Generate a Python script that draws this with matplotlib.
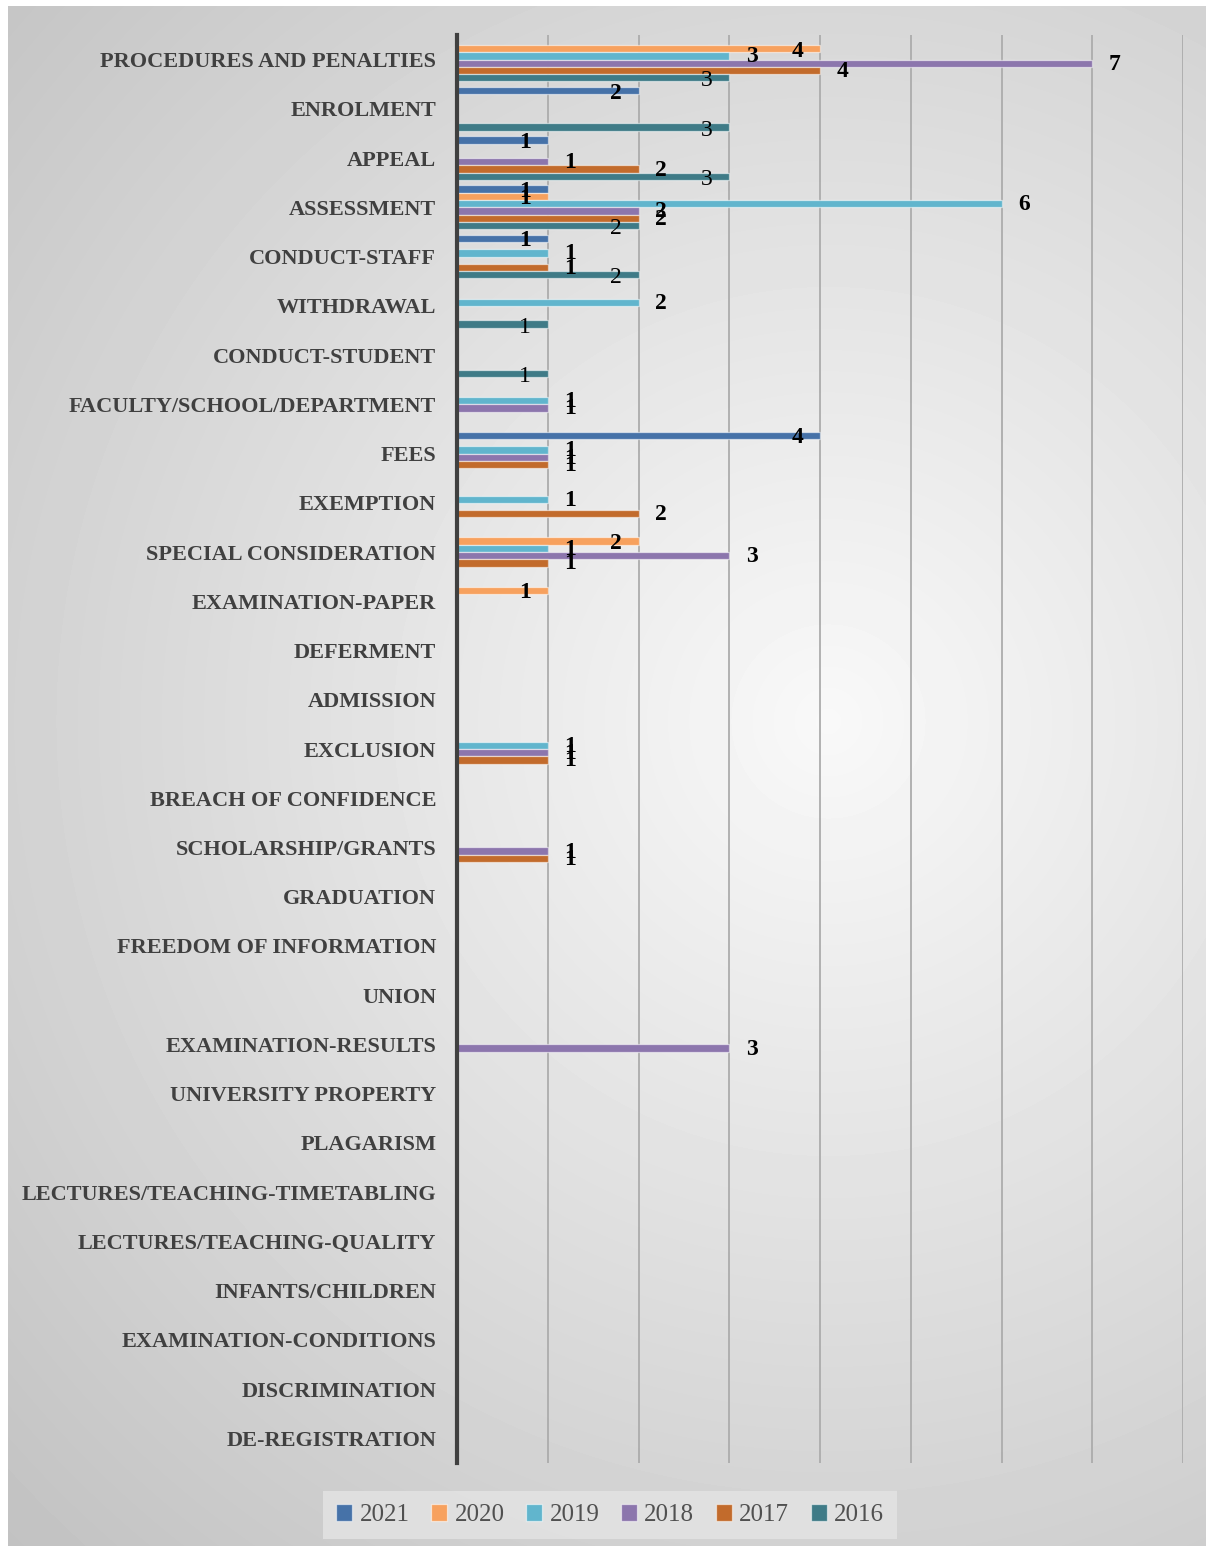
import numpy as np
import matplotlib
matplotlib.use("Agg")
import matplotlib.pyplot as plt


categories = [
    "PROCEDURES AND PENALTIES", "ENROLMENT", "APPEAL", "ASSESSMENT",
    "CONDUCT-STAFF", "WITHDRAWAL", "CONDUCT-STUDENT", "FACULTY/SCHOOL/DEPARTMENT",
    "FEES", "EXEMPTION", "SPECIAL CONSIDERATION", "EXAMINATION-PAPER",
    "DEFERMENT", "ADMISSION", "EXCLUSION", "BREACH OF CONFIDENCE",
    "SCHOLARSHIP/GRANTS", "GRADUATION", "FREEDOM OF INFORMATION", "UNION",
    "EXAMINATION-RESULTS", "UNIVERSITY PROPERTY", "PLAGARISM",
    "LECTURES/TEACHING-TIMETABLING", "LECTURES/TEACHING-QUALITY",
    "INFANTS/CHILDREN", "EXAMINATION-CONDITIONS", "DISCRIMINATION",
    "DE-REGISTRATION",
]

years = ["2021", "2020", "2019", "2018", "2017", "2016"]

#            PRO ENR APP ASS CST WDR CSU FAC FEE EXE SPC EXP DEF ADM EXC BRE SCH GRA FOI UNI EXR UPR PLA LTT LTQ INF EXC DIS DER
v2021 = [0, 2, 1, 1, 1, 0, 0, 0, 4, 0, 0, 0, 0, 0, 0, 0, 0, 0, 0, 0, 0, 0, 0, 0, 0, 0, 0, 0, 0]
v2020 = [4, 0, 0, 1, 0, 0, 0, 0, 0, 0, 2, 1, 0, 0, 0, 0, 0, 0, 0, 0, 0, 0, 0, 0, 0, 0, 0, 0, 0]
v2019 = [3, 0, 0, 6, 1, 2, 0, 1, 1, 1, 1, 0, 0, 0, 1, 0, 0, 0, 0, 0, 0, 0, 0, 0, 0, 0, 0, 0, 0]
v2018 = [7, 0, 1, 2, 0, 0, 0, 1, 1, 0, 3, 0, 0, 0, 1, 0, 1, 0, 0, 0, 3, 0, 0, 0, 0, 0, 0, 0, 0]
v2017 = [4, 0, 2, 2, 1, 0, 0, 0, 1, 2, 1, 0, 0, 0, 1, 0, 1, 0, 0, 0, 0, 0, 0, 0, 0, 0, 0, 0, 0]
v2016 = [3, 3, 3, 2, 2, 1, 1, 0, 0, 0, 0, 0, 0, 0, 0, 0, 0, 0, 0, 0, 0, 0, 0, 0, 0, 0, 0, 0, 0]
series = [v2021, v2020, v2019, v2018, v2017, v2016]

colors = ["#4672a8", "#f7a15e", "#61b5cd", "#8c76ad", "#c26b2c", "#3f7b87"]
# value labels: horizontal shift in data units, weight
label_dx = [-0.25, -0.25, 0.25, 0.25, 0.25, -0.25]
label_dy = [0.05, 0.05, 0.02, 0.02, 0.02, 0.06]
label_weight = ["bold", "bold", "bold", "bold", "bold", "normal"]

serif = ["Liberation Serif", "DejaVu Serif"]

fig = plt.figure(figsize=(12.06, 15.46), dpi=100)

# radial grey background
bg = fig.add_axes([8 / 1206, 0, 1 - 8 / 1206, 1 - 6 / 1546])
W, H = 1198, 1540
xx, yy = np.meshgrid(np.arange(W), np.arange(H))
r = np.hypot(xx - 820, yy - 715)
shade = np.clip(0.975 - 0.2 * r / 1080, 0.74, 1.0)
bg.imshow(shade, cmap="gray", vmin=0, vmax=1, aspect="auto", interpolation="bilinear")
bg.set_axis_off()

ax = fig.add_axes([457 / 1206, 1 - 1463 / 1546, (1183 - 457) / 1206, (1463 - 35) / 1546])
ax.patch.set_alpha(0)

n = len(categories)
y = np.arange(n)
slot = 0.148
for i, (vals, col) in enumerate(zip(series, colors)):
    pos = y + (i - 2.5) * slot
    ax.barh(pos, vals, height=slot, color=col, edgecolor=(1, 1, 1, 0.55),
            linewidth=0.9, label=years[i], zorder=3)
    for p, v in zip(pos, vals):
        if v > 0:
            ax.text(v + label_dx[i], p + label_dy[i], str(v), ha="center", va="center",
                    fontsize=17, fontweight=label_weight[i], color="black",
                    family=serif, zorder=5)

ax.set_ylim(n - 0.5, -0.5)
ax.set_xlim(0, 8)
ax.set_yticks(y)
ax.set_yticklabels(categories, family=serif, fontweight="bold", fontsize=16, color="#404040")
ax.tick_params(axis="y", length=0, pad=15)
ax.set_xticks(np.arange(0, 9))
ax.tick_params(axis="x", length=0, labelbottom=False)
ax.grid(axis="x", color="#acacac", linewidth=1.3, zorder=0)
for s in ["top", "right", "bottom"]:
    ax.spines[s].set_visible(False)
ax.spines["left"].set_color("#404040")
ax.spines["left"].set_linewidth(3)
ax.spines["left"].set_zorder(6)

leg = fig.legend(loc="center", bbox_to_anchor=(610 / 1206, 1 - 1515 / 1546), ncol=6,
                 frameon=True, fancybox=False, handlelength=0.65, handleheight=0.65,
                 handletextpad=0.3, columnspacing=0.85, borderpad=0.5,
                 prop={"family": serif, "size": 18})
leg.get_frame().set_facecolor("#e4e4e4")
leg.get_frame().set_edgecolor("none")
leg.get_frame().set_alpha(0.8)
for t in leg.get_texts():
    t.set_color("#505050")

fig.savefig("out.png", dpi=100)
